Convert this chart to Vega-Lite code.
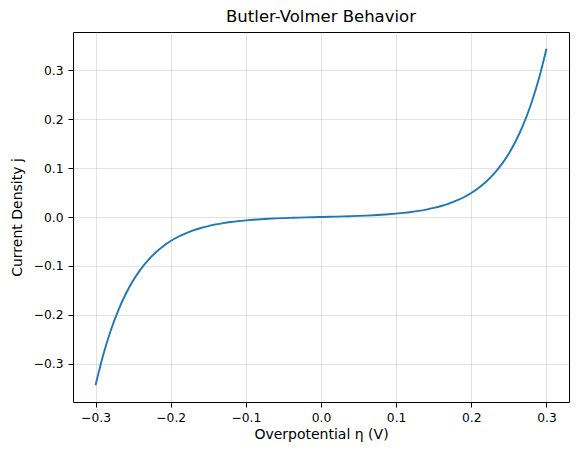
{
  "$schema": "https://vega.github.io/schema/vega-lite/v6.json",
  "width": 496,
  "height": 370,
  "autosize": {"type": "none"},
  "padding": {"left": 73, "top": 32, "right": 9, "bottom": 53},
  "title": {"text": "Butler-Volmer Behavior", "font": "DejaVu Sans", "fontSize": 16.5, "fontWeight": "normal", "color": "#000000", "offset": 7},
  "config": {
    "view": {"stroke": "#000000", "strokeWidth": 1},
    "axis": {
      "labelFont": "DejaVu Sans", "labelFontSize": 12.3, "labelColor": "#000000",
      "titleFont": "DejaVu Sans", "titleFontSize": 14, "titleColor": "#000000", "titleFontWeight": "normal",
      "domain": false, "tickColor": "#000000", "tickSize": 5, "tickWidth": 1,
      "gridColor": "#b0b0b0", "gridOpacity": 0.35, "gridWidth": 1
    }
  },
  "data": {"values": [
    {"eta": -0.30, "j": -0.343296}, {"eta": -0.29, "j": -0.282582}, {"eta": -0.28, "j": -0.232605},
    {"eta": -0.27, "j": -0.191467}, {"eta": -0.26, "j": -0.157603}, {"eta": -0.25, "j": -0.129728},
    {"eta": -0.24, "j": -0.106782}, {"eta": -0.23, "j": -0.087894}, {"eta": -0.22, "j": -0.072345},
    {"eta": -0.21, "j": -0.059545}, {"eta": -0.20, "j": -0.049008}, {"eta": -0.19, "j": -0.040333},
    {"eta": -0.18, "j": -0.033190}, {"eta": -0.17, "j": -0.027309}, {"eta": -0.16, "j": -0.022465},
    {"eta": -0.15, "j": -0.018474}, {"eta": -0.14, "j": -0.015186}, {"eta": -0.13, "j": -0.012475},
    {"eta": -0.12, "j": -0.010237}, {"eta": -0.11, "j": -0.008389}, {"eta": -0.10, "j": -0.006859},
    {"eta": -0.09, "j": -0.005590}, {"eta": -0.08, "j": -0.004534}, {"eta": -0.07, "j": -0.003649},
    {"eta": -0.06, "j": -0.002904}, {"eta": -0.05, "j": -0.002268}, {"eta": -0.04, "j": -0.001719},
    {"eta": -0.03, "j": -0.001235}, {"eta": -0.02, "j": -0.000798}, {"eta": -0.01, "j": -0.000392},
    {"eta": 0.00, "j": 0.0},
    {"eta": 0.01, "j": 0.000392}, {"eta": 0.02, "j": 0.000798}, {"eta": 0.03, "j": 0.001235},
    {"eta": 0.04, "j": 0.001719}, {"eta": 0.05, "j": 0.002268}, {"eta": 0.06, "j": 0.002904},
    {"eta": 0.07, "j": 0.003649}, {"eta": 0.08, "j": 0.004534}, {"eta": 0.09, "j": 0.005590},
    {"eta": 0.10, "j": 0.006859}, {"eta": 0.11, "j": 0.008389}, {"eta": 0.12, "j": 0.010237},
    {"eta": 0.13, "j": 0.012475}, {"eta": 0.14, "j": 0.015186}, {"eta": 0.15, "j": 0.018474},
    {"eta": 0.16, "j": 0.022465}, {"eta": 0.17, "j": 0.027309}, {"eta": 0.18, "j": 0.033190},
    {"eta": 0.19, "j": 0.040333}, {"eta": 0.20, "j": 0.049008}, {"eta": 0.21, "j": 0.059545},
    {"eta": 0.22, "j": 0.072345}, {"eta": 0.23, "j": 0.087894}, {"eta": 0.24, "j": 0.106782},
    {"eta": 0.25, "j": 0.129728}, {"eta": 0.26, "j": 0.157603}, {"eta": 0.27, "j": 0.191467},
    {"eta": 0.28, "j": 0.232605}, {"eta": 0.29, "j": 0.282582}, {"eta": 0.30, "j": 0.343296}
  ]},
  "mark": {"type": "line", "color": "#1f77b4", "strokeWidth": 1.9, "interpolate": "monotone"},
  "encoding": {
    "x": {
      "field": "eta", "type": "quantitative",
      "scale": {"domain": [-0.33, 0.33], "nice": false, "zero": false},
      "axis": {"title": "Overpotential η (V)", "values": [-0.3, -0.2, -0.1, 0, 0.1, 0.2, 0.3], "format": ".1f", "labelPadding": 4, "titlePadding": 4}
    },
    "y": {
      "field": "j", "type": "quantitative",
      "scale": {"domain": [-0.3776, 0.3776], "nice": false, "zero": false},
      "axis": {"title": "Current Density j", "values": [-0.3, -0.2, -0.1, 0, 0.1, 0.2, 0.3], "format": ".1f", "labelPadding": 5, "titlePadding": 9}
    }
  }
}
